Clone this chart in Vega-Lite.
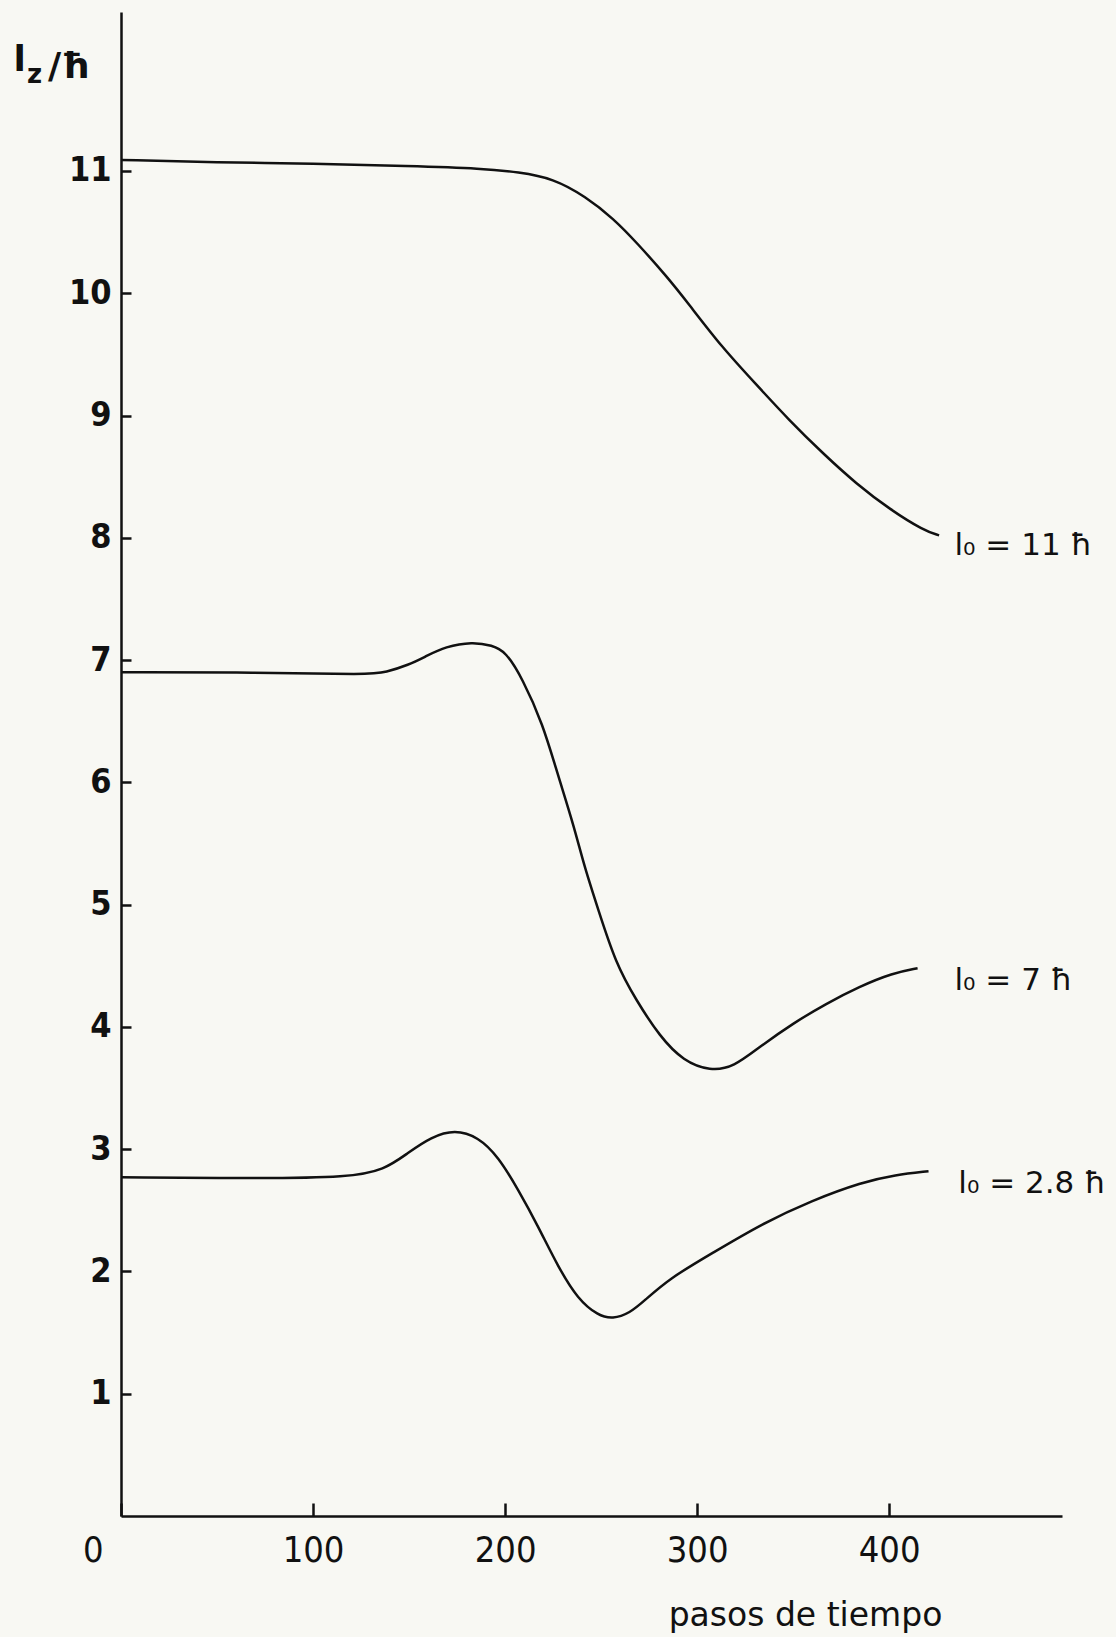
{
  "$schema": "https://vega.github.io/schema/vega-lite/v6.json",
  "width": 941,
  "height": 1504,
  "autosize": {"type": "none"},
  "padding": {"left": 121, "top": 12, "right": 54, "bottom": 121},
  "background": "#f8f8f3",
  "config": {"view": {"stroke": null}, "font": "DejaVu Sans"},
  "datasets": {
    "curves": [
      {"s": "11", "x": 0, "y": 11.09}, {"s": "11", "x": 50, "y": 11.07}, {"s": "11", "x": 100, "y": 11.06},
      {"s": "11", "x": 150, "y": 11.04}, {"s": "11", "x": 188.6, "y": 11.02}, {"s": "11", "x": 207, "y": 10.99},
      {"s": "11", "x": 225, "y": 10.94}, {"s": "11", "x": 242, "y": 10.79}, {"s": "11", "x": 256.5, "y": 10.61},
      {"s": "11", "x": 268.8, "y": 10.41}, {"s": "11", "x": 284.6, "y": 10.13}, {"s": "11", "x": 295.2, "y": 9.92},
      {"s": "11", "x": 312.8, "y": 9.56}, {"s": "11", "x": 330.4, "y": 9.26}, {"s": "11", "x": 348, "y": 8.96},
      {"s": "11", "x": 365.5, "y": 8.69}, {"s": "11", "x": 383, "y": 8.44}, {"s": "11", "x": 400.6, "y": 8.23},
      {"s": "11", "x": 418, "y": 8.06}, {"s": "11", "x": 426, "y": 8.02},
      {"s": "7", "x": 0, "y": 6.90}, {"s": "7", "x": 70, "y": 6.90}, {"s": "7", "x": 130, "y": 6.88},
      {"s": "7", "x": 137.6, "y": 6.90}, {"s": "7", "x": 149.8, "y": 6.96}, {"s": "7", "x": 158.6, "y": 7.03},
      {"s": "7", "x": 169, "y": 7.11}, {"s": "7", "x": 182.9, "y": 7.15}, {"s": "7", "x": 193.3, "y": 7.12},
      {"s": "7", "x": 200.3, "y": 7.07}, {"s": "7", "x": 209, "y": 6.85}, {"s": "7", "x": 219.6, "y": 6.48},
      {"s": "7", "x": 227.3, "y": 6.07}, {"s": "7", "x": 235.9, "y": 5.64}, {"s": "7", "x": 241.3, "y": 5.31},
      {"s": "7", "x": 248.5, "y": 4.96}, {"s": "7", "x": 257.6, "y": 4.52}, {"s": "7", "x": 268.2, "y": 4.22},
      {"s": "7", "x": 280.6, "y": 3.92}, {"s": "7", "x": 292.9, "y": 3.72}, {"s": "7", "x": 306.8, "y": 3.64},
      {"s": "7", "x": 319, "y": 3.67}, {"s": "7", "x": 332.8, "y": 3.84}, {"s": "7", "x": 350, "y": 4.03},
      {"s": "7", "x": 367.2, "y": 4.19}, {"s": "7", "x": 384.5, "y": 4.33}, {"s": "7", "x": 401.8, "y": 4.44},
      {"s": "7", "x": 414.8, "y": 4.48},
      {"s": "2.8", "x": 0, "y": 2.77}, {"s": "2.8", "x": 75, "y": 2.76}, {"s": "2.8", "x": 118, "y": 2.77},
      {"s": "2.8", "x": 137.3, "y": 2.83}, {"s": "2.8", "x": 149.4, "y": 2.97}, {"s": "2.8", "x": 161.6, "y": 3.10},
      {"s": "2.8", "x": 173.8, "y": 3.16}, {"s": "2.8", "x": 186, "y": 3.10}, {"s": "2.8", "x": 196.4, "y": 2.94},
      {"s": "2.8", "x": 206.8, "y": 2.67}, {"s": "2.8", "x": 217.2, "y": 2.37}, {"s": "2.8", "x": 227.5, "y": 2.04},
      {"s": "2.8", "x": 238, "y": 1.77}, {"s": "2.8", "x": 248.4, "y": 1.64}, {"s": "2.8", "x": 256, "y": 1.61},
      {"s": "2.8", "x": 265, "y": 1.66}, {"s": "2.8", "x": 272.5, "y": 1.76}, {"s": "2.8", "x": 285.3, "y": 1.94},
      {"s": "2.8", "x": 307.9, "y": 2.15}, {"s": "2.8", "x": 333.7, "y": 2.39}, {"s": "2.8", "x": 359.7, "y": 2.58},
      {"s": "2.8", "x": 385.8, "y": 2.73}, {"s": "2.8", "x": 403.2, "y": 2.79}, {"s": "2.8", "x": 420.5, "y": 2.82}
    ],
    "labels": [
      {"t": "l₀ = 11 ħ", "x": 434, "y": 7.86},
      {"t": "l₀ = 7 ħ", "x": 434, "y": 4.30},
      {"t": "l₀ = 2.8 ħ", "x": 436, "y": 2.64}
    ],
    "ytitleL": [{"t": "l", "x": -56, "y": 11.82}],
    "ytitleZ": [{"t": "z", "x": -49, "y": 11.72}],
    "ytitleH": [{"t": "/ħ", "x": -38, "y": 11.76}]
  },
  "layer": [
    {
      "data": {"name": "curves"},
      "mark": {"type": "line", "interpolate": "basis", "stroke": "#111111", "strokeWidth": 2.5},
      "encoding": {
        "x": {
          "field": "x", "type": "quantitative",
          "scale": {"domain": [0, 490], "nice": false, "zero": false},
          "axis": {
            "values": [0, 100, 200, 300, 400],
            "format": "d",
            "grid": false,
            "title": "pasos de tiempo",
            "titleFont": "DejaVu Sans",
            "titleFontSize": 33,
            "titleFontWeight": "normal",
            "titleColor": "#111111",
            "titleX": 684,
            "titleY": 99,
            "titleAlign": "center",
            "titleBaseline": "middle",
            "domainColor": "#111111",
            "domainWidth": 2.5,
            "tickColor": "#111111",
            "tickWidth": 2.5,
            "tickSize": -13,
            "labelPadding": 30,
            "labelFont": "Liberation Sans Narrow, DejaVu Sans Condensed, DejaVu Sans",
            "labelFontSize": 36,
            "labelColor": "#111111",
            "labelBaseline": "top",
            "labelAlign": {"condition": {"test": "datum.value === 0", "value": "right"}, "value": "center"},
            "labelOffset": {"condition": {"test": "datum.value === 0", "value": -18}, "value": 0}
          }
        },
        "y": {
          "field": "y", "type": "quantitative",
          "scale": {"domain": [0, 12.3], "nice": false, "zero": false},
          "axis": {
            "values": [1, 2, 3, 4, 5, 6, 7, 8, 9, 10, 11],
            "format": "d",
            "grid": false,
            "title": null,
            "domainColor": "#111111",
            "domainWidth": 2.5,
            "tickColor": "#111111",
            "tickWidth": 2.5,
            "tickSize": -10,
            "labelPadding": 20,
            "labelFont": "Liberation Sans Narrow, DejaVu Sans Condensed, DejaVu Sans",
            "labelFontSize": 34,
            "labelFontWeight": "bold",
            "labelColor": "#111111",
            "labelBaseline": "middle"
          }
        },
        "detail": {"field": "s"}
      }
    },
    {
      "data": {"name": "labels"},
      "mark": {"type": "text", "align": "left", "baseline": "alphabetic", "fontSize": 31, "color": "#111111", "font": "DejaVu Sans"},
      "encoding": {
        "x": {"field": "x", "type": "quantitative"},
        "y": {"field": "y", "type": "quantitative"},
        "text": {"field": "t"}
      }
    },
    {
      "data": {"name": "ytitleL"},
      "mark": {"type": "text", "align": "left", "baseline": "alphabetic", "fontSize": 36, "fontWeight": "bold", "color": "#111111", "font": "DejaVu Sans"},
      "encoding": {
        "x": {"field": "x", "type": "quantitative"},
        "y": {"field": "y", "type": "quantitative"},
        "text": {"field": "t"}
      }
    },
    {
      "data": {"name": "ytitleZ"},
      "mark": {"type": "text", "align": "left", "baseline": "alphabetic", "fontSize": 26, "fontWeight": "bold", "color": "#111111", "font": "DejaVu Sans"},
      "encoding": {
        "x": {"field": "x", "type": "quantitative"},
        "y": {"field": "y", "type": "quantitative"},
        "text": {"field": "t"}
      }
    },
    {
      "data": {"name": "ytitleH"},
      "mark": {"type": "text", "align": "left", "baseline": "alphabetic", "fontSize": 36, "fontWeight": "bold", "color": "#111111", "font": "DejaVu Sans"},
      "encoding": {
        "x": {"field": "x", "type": "quantitative"},
        "y": {"field": "y", "type": "quantitative"},
        "text": {"field": "t"}
      }
    }
  ]
}
